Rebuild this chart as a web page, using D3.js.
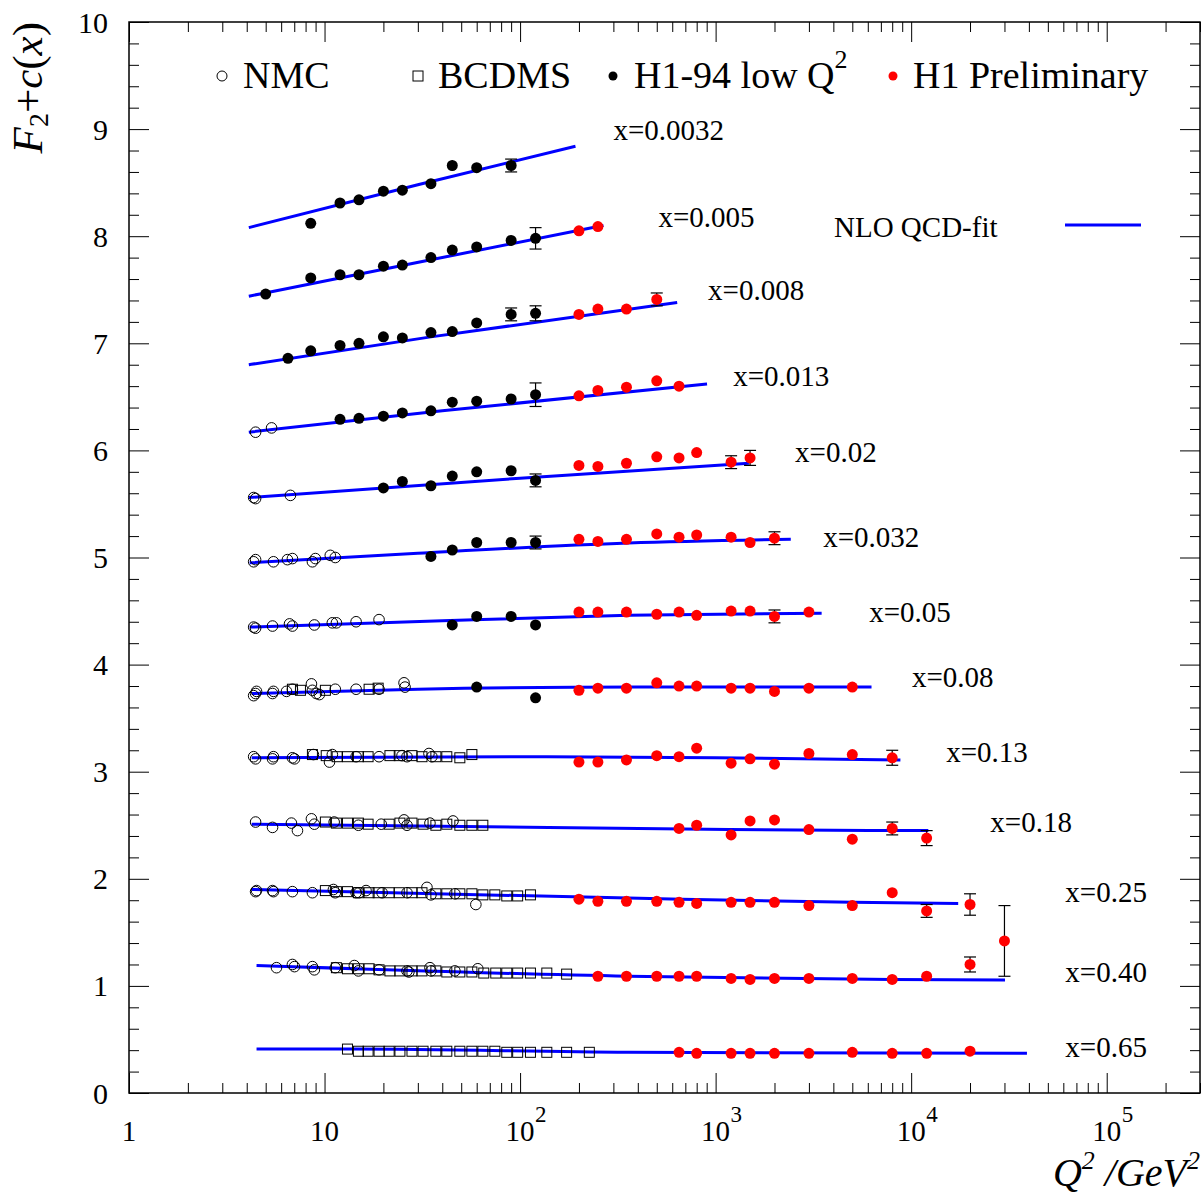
<!DOCTYPE html>
<html><head><meta charset="utf-8">
<script src="https://cdn.jsdelivr.net/npm/d3@7"></script>
<style>
body{margin:0;background:#fff}
svg{display:block}
text{font-family:"Liberation Serif","Times New Roman",serif;fill:#000}
</style>
</head><body><svg id="c" width="1202" height="1194"></svg>
<script>
// ---------------- DATA ----------------
const binLabels = ["x=0.0032","x=0.005","x=0.008","x=0.013","x=0.02","x=0.032","x=0.05","x=0.08","x=0.13","x=0.18","x=0.25","x=0.40","x=0.65"];
// label anchor in data coordinates (Q2, F2+c)
const labelQ2 = [300,510,915,1230,2550,3550,6100,10100,15100,25400,61400,61400,61400];
const labelF2 = [8.90,8.09,7.40,6.60,5.89,5.10,4.40,3.79,3.09,2.44,1.78,1.04,0.34];

const xTickExponents = [0,1,2,3,4,5];
const yTickValues = [0,1,2,3,4,5,6,7,8,9,10];

// NLO QCD fit curves [Q2, F2+c]
const fitCurves = [
  [[4.1,8.08],[30,8.48],[192,8.84]],
  [[4.1,7.44],[35,7.78],[267,8.10]],
  [[4.1,6.80],[35,7.06],[636,7.38]],
  [[4.1,6.17],[40,6.37],[904,6.62]],
  [[4.1,5.56],[100,5.74],[1480,5.88]],
  [[4.14,4.95],[30,5.04],[358,5.135],[2423,5.17]],
  [[4.14,4.35],[40,4.41],[358,4.46],[3485,4.48]],
  [[4.24,3.73],[30,3.77],[400,3.79],[6270,3.79]],
  [[4.24,3.13],[100,3.14],[1000,3.13],[8810,3.11]],
  [[4.24,2.51],[140,2.48],[1170,2.46],[12240,2.45]],
  [[4.24,1.90],[358,1.82],[5000,1.78],[17400,1.77]],
  [[4.49,1.19],[358,1.09],[8000,1.06],[30200,1.055]],
  [[4.49,0.41],[14,0.41],[358,0.38],[39100,0.37]]
];

// NMC [Q2, F2+c]
const nmcData = [
  [],[],[],
  [[4.44,6.17],[5.36,6.21]],
  [[4.34,5.56],[4.44,5.55],[6.69,5.58]],
  [[4.34,4.96],[4.44,4.98],[5.48,4.96],[6.46,4.98],[6.85,4.99],[8.67,4.96],[8.98,4.99],[10.7,5.02],[11.35,5.00]],
  [[4.34,4.35],[4.44,4.34],[5.42,4.36],[6.62,4.38],[6.85,4.36],[8.87,4.37],[10.96,4.39],[11.5,4.39],[14.5,4.40],[19.0,4.42]],
  [[4.44,3.73],[4.34,3.71],[4.49,3.75],[5.42,3.73],[5.48,3.75],[6.39,3.75],[6.85,3.77],[8.57,3.82],[8.67,3.76],[9.08,3.73],[9.41,3.72],[11.35,3.77],[14.5,3.77],[19.0,3.77],[25.5,3.83],[25.8,3.79]],
  [[4.44,3.12],[4.34,3.14],[5.42,3.12],[5.48,3.14],[6.85,3.13],[7.02,3.12],[8.77,3.16],[10.6,3.09],[10.96,3.16],[14.5,3.14],[19.0,3.14],[24.9,3.15],[26.4,3.14],[34.2,3.17],[35.4,3.14]],
  [[4.44,2.53],[5.42,2.48],[6.77,2.52],[7.27,2.45],[8.57,2.56],[8.87,2.51],[11.2,2.53],[14.9,2.50],[19.5,2.51],[25.5,2.55],[26.4,2.50],[34.6,2.52],[45.4,2.54]],
  [[4.44,1.88],[4.49,1.89],[5.48,1.88],[5.42,1.89],[6.85,1.88],[8.67,1.87],[11.1,1.90],[11.35,1.87],[14.5,1.87],[15.0,1.87],[16.3,1.89],[19.7,1.87],[26.4,1.87],[33.4,1.92],[35.0,1.85],[46.4,1.86],[59.4,1.76]],
  [[5.68,1.17],[6.85,1.20],[7.02,1.18],[8.67,1.18],[8.87,1.15],[11.35,1.17],[14.2,1.19],[14.9,1.14],[19.0,1.15],[26.4,1.14],[27.0,1.13],[34.6,1.17],[35.0,1.14],[46.4,1.14],[60.8,1.16]],
  []
];

// BCDMS [Q2, F2+c]
const bcdmsData = [
  [],[],[],[],[],[],[],
  [[6.85,3.77],[7.53,3.76],[10.1,3.76],[16.9,3.77],[18.8,3.78]],
  [[8.67,3.16],[10.2,3.15],[11.6,3.14],[13.1,3.14],[14.9,3.14],[16.7,3.14],[21.6,3.15],[24.1,3.15],[28.0,3.15],[31.5,3.14],[37.1,3.14],[42.2,3.14],[49.2,3.13],[56.7,3.16]],
  [[10.1,2.53],[11.5,2.52],[13.1,2.52],[14.9,2.52],[16.7,2.51],[21.4,2.51],[24.3,2.52],[28.0,2.52],[31.9,2.51],[37.1,2.50],[42.2,2.51],[49.2,2.50],[56.7,2.50],[64.5,2.50]],
  [[10.1,1.89],[11.5,1.88],[13.1,1.88],[14.9,1.87],[16.9,1.87],[18.8,1.87],[21.4,1.87],[24.1,1.87],[28.0,1.87],[31.5,1.87],[37.1,1.86],[42.2,1.86],[49.2,1.86],[56.7,1.86],[64.5,1.85],[74.3,1.85],[85.5,1.84],[97.2,1.84],[113,1.85]],
  [[11.5,1.17],[13.1,1.16],[14.9,1.16],[16.9,1.16],[19.0,1.15],[21.6,1.14],[24.3,1.14],[28.0,1.14],[31.5,1.14],[37.1,1.14],[42.2,1.13],[49.2,1.13],[56.7,1.13],[65.2,1.12],[75.1,1.12],[85.5,1.12],[97.2,1.12],[113,1.12],[137,1.12],[173,1.11]],
  [[13.1,0.41],[14.9,0.39],[16.7,0.39],[19.0,0.39],[21.4,0.39],[24.3,0.39],[28.0,0.39],[31.9,0.39],[37.1,0.39],[42.2,0.39],[49.2,0.39],[56.7,0.39],[64.5,0.39],[74.3,0.39],[85.5,0.38],[97.2,0.38],[113,0.38],[137,0.38],[173,0.38],[226,0.38]]
];

// H1-94 low Q2 [Q2, F2+c, error]
const h194Data = [
  [[8.5,8.12,0.04],[12,8.31,0.045],[15,8.34,0.04],[20,8.42,0.04],[25,8.43,0.04],[35,8.49,0.04],[45,8.66,0.05],[60,8.64,0.04],[90,8.66,0.06]],
  [[5,7.46,0.045],[8.5,7.61,0.04],[12,7.64,0.045],[15,7.64,0.04],[20,7.72,0.04],[25,7.73,0.04],[35,7.80,0.04],[45,7.87,0.04],[60,7.90,0.04],[90,7.96,0.045],[120,7.98,0.10]],
  [[6.5,6.86,0.04],[8.5,6.93,0.04],[12,6.98,0.04],[15,7.00,0.04],[20,7.06,0.04],[25,7.05,0.04],[35,7.10,0.04],[45,7.11,0.04],[60,7.19,0.04],[90,7.27,0.06],[120,7.28,0.07]],
  [[12,6.29,0.04],[15,6.30,0.04],[20,6.32,0.04],[25,6.35,0.04],[35,6.37,0.04],[45,6.45,0.04],[60,6.46,0.04],[90,6.48,0.04],[120,6.52,0.11]],
  [[20,5.65,0.04],[25,5.71,0.04],[35,5.67,0.04],[45,5.76,0.04],[60,5.80,0.04],[90,5.81,0.04],[120,5.72,0.06]],
  [[35,5.01,0.04],[45,5.07,0.04],[60,5.14,0.04],[90,5.14,0.04],[120,5.14,0.06]],
  [[45,4.37,0.04],[60,4.45,0.04],[90,4.45,0.04],[120,4.37,0.04]],
  [[60,3.79,0.04],[120,3.69,0.04]],
  [],[],[],[],[]
];

// H1 Preliminary [Q2, F2+c, error]
const h1PrelimData = [
  [],
  [[200,8.05,0.04],[250,8.09,0.04]],
  [[200,7.27,0.03],[250,7.32,0.04],[350,7.32,0.03],[500,7.41,0.06]],
  [[200,6.51,0.03],[250,6.56,0.03],[350,6.59,0.03],[500,6.65,0.04],[650,6.60,0.04]],
  [[200,5.86,0.03],[250,5.85,0.03],[350,5.88,0.03],[500,5.94,0.03],[650,5.93,0.03],[800,5.98,0.04],[1200,5.89,0.06],[1500,5.93,0.07]],
  [[200,5.17,0.03],[250,5.15,0.03],[350,5.17,0.03],[500,5.22,0.03],[650,5.19,0.03],[800,5.21,0.03],[1200,5.19,0.03],[1500,5.14,0.03],[2000,5.18,0.06]],
  [[200,4.49,0.03],[250,4.49,0.03],[350,4.49,0.03],[500,4.47,0.03],[650,4.49,0.03],[800,4.46,0.03],[1200,4.50,0.03],[1500,4.50,0.03],[2000,4.45,0.06],[3000,4.49,0.03]],
  [[200,3.76,0.03],[250,3.78,0.03],[350,3.78,0.03],[500,3.83,0.03],[650,3.80,0.03],[800,3.80,0.03],[1200,3.78,0.03],[1500,3.78,0.03],[2000,3.75,0.03],[3000,3.78,0.03],[5000,3.79,0.03]],
  [[200,3.09,0.03],[250,3.09,0.03],[350,3.11,0.03],[500,3.15,0.03],[650,3.14,0.03],[800,3.22,0.03],[1200,3.08,0.03],[1500,3.12,0.03],[2000,3.07,0.03],[3000,3.17,0.03],[5000,3.16,0.03],[8000,3.13,0.07]],
  [[650,2.47,0.03],[800,2.50,0.03],[1200,2.41,0.03],[1500,2.54,0.03],[2000,2.55,0.03],[3000,2.46,0.03],[5000,2.37,0.03],[8000,2.47,0.06],[12000,2.38,0.07]],
  [[200,1.81,0.03],[250,1.79,0.03],[350,1.79,0.03],[500,1.79,0.03],[650,1.78,0.03],[800,1.77,0.03],[1200,1.78,0.03],[1500,1.78,0.03],[2000,1.78,0.03],[3000,1.75,0.03],[5000,1.75,0.03],[8000,1.87,0.03],[12000,1.70,0.06],[20000,1.76,0.10]],
  [[250,1.09,0.03],[350,1.09,0.03],[500,1.09,0.03],[650,1.09,0.03],[800,1.09,0.03],[1200,1.07,0.03],[1500,1.06,0.03],[2000,1.07,0.03],[3000,1.07,0.03],[5000,1.07,0.03],[8000,1.06,0.03],[12000,1.09,0.03],[20000,1.20,0.07],[30000,1.42,0.33]],
  [[650,0.38,0.03],[800,0.37,0.03],[1200,0.37,0.03],[1500,0.37,0.03],[2000,0.37,0.03],[3000,0.37,0.03],[5000,0.38,0.03],[8000,0.37,0.03],[12000,0.37,0.03],[20000,0.39,0.03]]
];

const legendNames = ["NMC","BCDMS","H1-94 low Q","H1 Preliminary"];
const fitLegendName = "NLO QCD-fit";

// ---------------- LAYOUT ----------------
const L=129, R=1200, T=22, B=1093;
const svg = d3.select("#c");
const x = d3.scaleLog().domain([1,3e5]).range([L,R]);
const y = d3.scaleLinear().domain([0,10]).range([B,T]);

// axes ticks
const majorX = xTickExponents.map(e=>Math.pow(10,e));
const minorX = [];
for (let e=0;e<=5;e++) for (let k=2;k<=9;k++){ const v=k*Math.pow(10,e); if (v<=3e5) minorX.push(v); }
const minorY = d3.range(0,10.001,0.2).filter(v=>Math.abs(v-Math.round(v))>1e-6);

function styleAxis(g){ g.select(".domain").remove(); g.selectAll(".tick line").attr("stroke","#000").attr("stroke-width",1); g.selectAll(".tick text").remove(); }

svg.append("g").attr("transform",`translate(0,${B})`).call(d3.axisBottom(x).tickValues(majorX).tickSize(-20).tickFormat(()=>"" )).call(styleAxis);
svg.append("g").attr("transform",`translate(0,${B})`).call(d3.axisBottom(x).tickValues(minorX).tickSize(-10).tickFormat(()=>"" )).call(styleAxis);
svg.append("g").attr("transform",`translate(0,${T})`).call(d3.axisTop(x).tickValues(majorX).tickSize(-20).tickFormat(()=>"" )).call(styleAxis);
svg.append("g").attr("transform",`translate(0,${T})`).call(d3.axisTop(x).tickValues(minorX).tickSize(-10).tickFormat(()=>"" )).call(styleAxis);
svg.append("g").attr("transform",`translate(${L},0)`).call(d3.axisLeft(y).tickValues(yTickValues).tickSize(-20)).call(styleAxis);
svg.append("g").attr("transform",`translate(${L},0)`).call(d3.axisLeft(y).tickValues(minorY).tickSize(-10)).call(styleAxis);
svg.append("g").attr("transform",`translate(${R},0)`).call(d3.axisRight(y).tickValues(yTickValues).tickSize(-20)).call(styleAxis);
svg.append("g").attr("transform",`translate(${R},0)`).call(d3.axisRight(y).tickValues(minorY).tickSize(-10)).call(styleAxis);

// frame
svg.append("rect").attr("x",L).attr("y",T).attr("width",R-L).attr("height",B-T)
  .attr("fill","none").attr("stroke","#000").attr("stroke-width",1.5);

// y tick labels
svg.append("g").selectAll("text").data(yTickValues).join("text")
  .attr("x",108).attr("y",d=>y(d)).attr("dy","0.35em").attr("text-anchor","end")
  .attr("font-size",30).text(d=>d);

// x tick labels
const xl = svg.append("g");
xTickExponents.forEach(e=>{
  const px = x(Math.pow(10,e));
  xl.append("text").attr("x",px).attr("y",1141).attr("text-anchor","middle").attr("font-size",29)
    .text(e===0?"1":"10");
  if (e>=2) xl.append("text").attr("x",px+15).attr("y",1122).attr("font-size",23).text(e);
});

// axis titles
const xt = svg.append("text").attr("x",1200).attr("y",1186).attr("text-anchor","end")
  .attr("font-size",40).attr("font-style","italic");
xt.append("tspan").text("Q");
xt.append("tspan").attr("font-size",26).attr("dy",-17).text("2");
xt.append("tspan").attr("dy",17).text(" /GeV");
xt.append("tspan").attr("font-size",26).attr("dy",-17).text("2");

const yt = svg.append("text").attr("transform","translate(42,22) rotate(-90)").attr("text-anchor","end")
  .attr("font-size",43);
yt.append("tspan").attr("font-style","italic").text("F");
yt.append("tspan").attr("font-size",28).attr("dy",6).text("2");
yt.append("tspan").attr("dy",-6).text("+");
yt.append("tspan").attr("font-style","italic").text("c");
yt.append("tspan").text("(");
yt.append("tspan").attr("font-style","italic").text("x");
yt.append("tspan").text(")");

// plot contents
const plot = svg.append("g");
const line = d3.line().x(d=>x(d[0])).y(d=>y(d[1])).curve(d3.curveMonotoneX);

plot.append("g").selectAll("path").data(fitCurves).join("path")
  .attr("d",line).attr("fill","none").attr("stroke","#0000ff").attr("stroke-width",3);

// NMC
plot.append("g").selectAll("circle").data(nmcData.flat()).join("circle")
  .attr("cx",d=>x(d[0])).attr("cy",d=>y(d[1])).attr("r",5.3)
  .attr("fill","none").attr("stroke","#000").attr("stroke-width",1);
// BCDMS
plot.append("g").selectAll("rect").data(bcdmsData.flat()).join("rect")
  .attr("x",d=>x(d[0])-5).attr("y",d=>y(d[1])-5).attr("width",10).attr("height",10)
  .attr("fill","none").attr("stroke","#000").attr("stroke-width",1);

function drawErr(g, data){
  const eg = g.append("g").attr("stroke","#000").attr("stroke-width",1.2);
  data.forEach(d=>{
    const cx=x(d[0]), y1=y(d[1]+d[2]), y2=y(d[1]-d[2]);
    eg.append("line").attr("x1",cx).attr("x2",cx).attr("y1",y1).attr("y2",y2);
    if (d[2]>=0.055){
      eg.append("line").attr("x1",cx-6).attr("x2",cx+6).attr("y1",y1).attr("y2",y1);
      eg.append("line").attr("x1",cx-6).attr("x2",cx+6).attr("y1",y2).attr("y2",y2);
    }
  });
}
const h194 = h194Data.flat();
const h1p = h1PrelimData.flat();
drawErr(plot,h194);
drawErr(plot,h1p);
plot.append("g").selectAll("circle").data(h194).join("circle")
  .attr("cx",d=>x(d[0])).attr("cy",d=>y(d[1])).attr("r",5.5).attr("fill","#000");
plot.append("g").selectAll("circle").data(h1p).join("circle")
  .attr("cx",d=>x(d[0])).attr("cy",d=>y(d[1])).attr("r",5.5).attr("fill","#ff0000");

// bin labels
plot.append("g").selectAll("text").data(binLabels).join("text")
  .attr("x",(d,i)=>x(labelQ2[i])).attr("y",(d,i)=>y(labelF2[i]))
  .attr("font-size",29).text(d=>d);

// legend
const lg = svg.append("g");
lg.append("circle").attr("cx",222).attr("cy",76).attr("r",5).attr("fill","none").attr("stroke","#000").attr("stroke-width",1);
lg.append("text").attr("x",243).attr("y",88).attr("font-size",38).text(legendNames[0]);
lg.append("rect").attr("x",413).attr("y",71).attr("width",10).attr("height",10).attr("fill","none").attr("stroke","#000").attr("stroke-width",1);
lg.append("text").attr("x",438).attr("y",88).attr("font-size",38).text(legendNames[1]);
lg.append("circle").attr("cx",613).attr("cy",76).attr("r",4.5).attr("fill","#000");
const t3 = lg.append("text").attr("x",634).attr("y",88).attr("font-size",38);
t3.append("tspan").text(legendNames[2]);
t3.append("tspan").attr("font-size",26).attr("dy",-20).text("2");
lg.append("circle").attr("cx",893).attr("cy",76).attr("r",4.5).attr("fill","#ff0000");
lg.append("text").attr("x",913).attr("y",88).attr("font-size",38).text(legendNames[3]);
lg.append("text").attr("x",834).attr("y",237).attr("font-size",29).text(fitLegendName);
lg.append("line").attr("x1",1065).attr("x2",1141).attr("y1",225).attr("y2",225).attr("stroke","#0000ff").attr("stroke-width",3);
</script>
</body></html>
